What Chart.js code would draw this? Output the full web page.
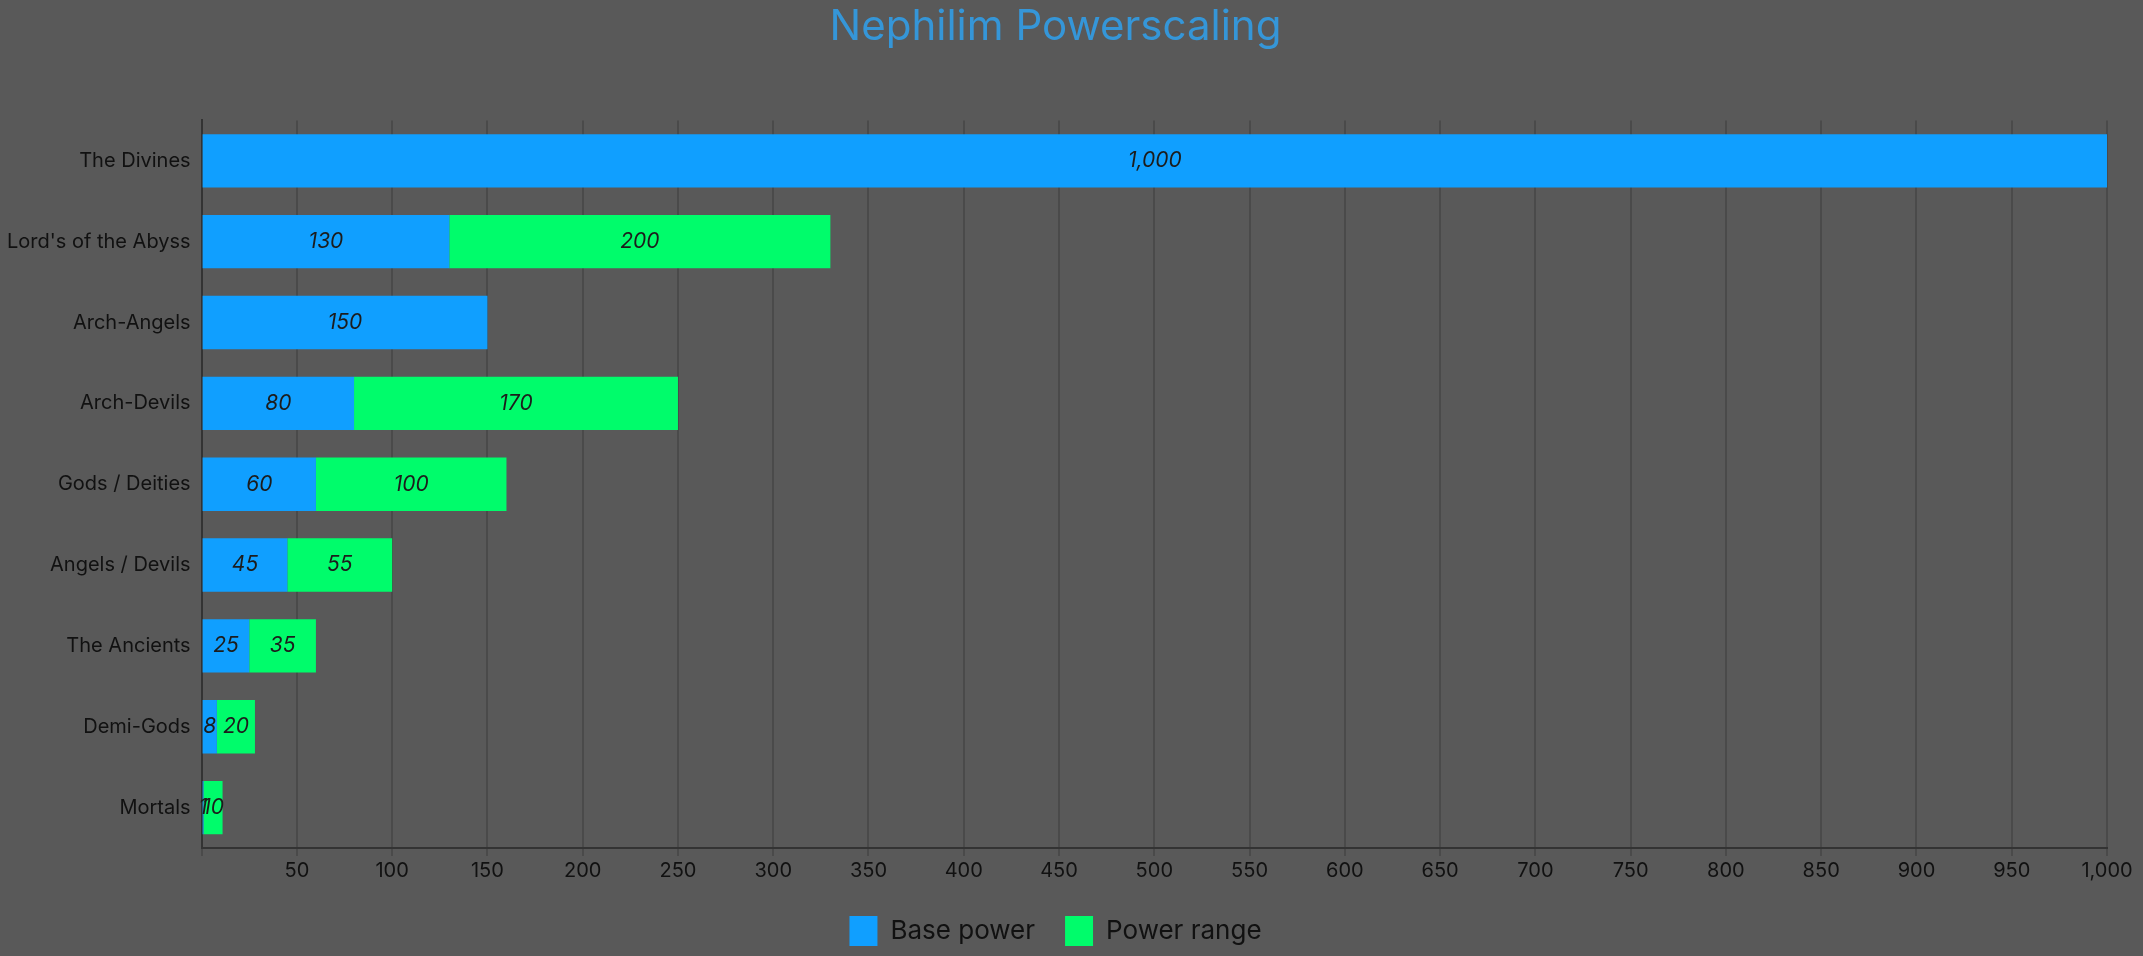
<!DOCTYPE html>
<html>
<head>
<meta charset="utf-8">
<script src="https://cdn.jsdelivr.net/npm/chart.js@4"></script>
<style>
  html, body { margin: 0; padding: 0; background: #595959; }
  #wrap { width: 2143px; height: 956px; }
</style>
</head>
<body>
<div id="wrap"><canvas id="powerChart"></canvas></div>
<script>
const categories = ['The Divines', "Lord's of the Abyss", 'Arch-Angels', 'Arch-Devils', 'Gods / Deities', 'Angels / Devils', 'The Ancients', 'Demi-Gods', 'Mortals'];
const basePower = [1000, 130, 150, 80, 60, 45, 25, 8, 1];
const powerRange = [null, 200, null, 170, 100, 55, 35, 20, 10];

Chart.defaults.font.family = 'Inter';

// centered italic value labels on each bar segment
const barLabels = {
    id: 'barLabels',
    afterDatasetsDraw(chart) {
        const ctx = chart.ctx;
        ctx.save();
        ctx.font = 'italic 21px Inter';
        ctx.fillStyle = '#1c1c1c';
        ctx.textAlign = 'center';
        ctx.textBaseline = 'middle';
        chart.data.datasets.forEach((ds, i) => {
            chart.getDatasetMeta(i).data.forEach((bar, j) => {
                const v = ds.data[j];
                if (v == null) return;
                const p = bar.getProps(['x', 'y', 'base'], true);
                ctx.fillText(v.toLocaleString('en-US'), (p.x + p.base) / 2, p.y);
            });
        });
        ctx.restore();
    }
};

const ctx = document.getElementById('powerChart').getContext('2d');
new Chart(ctx, {
    type: 'bar',
    data: {
        labels: categories,
        datasets: [{
            label: 'Base power',
            data: basePower,
            backgroundColor: '#109fff'
        }, {
            label: 'Power range',
            data: powerRange,
            backgroundColor: '#00fc6b'
        }]
    },
    options: {
        indexAxis: 'y',
        responsive: true,
        maintainAspectRatio: false,
        animation: false,
        barPercentage: 0.66,
        categoryPercentage: 1,
        layout: { padding: { right: 36, left: 4 } },
        plugins: {
            title: {
                display: true,
                text: 'Nephilim Powerscaling',
                color: '#3596d8',
                font: { size: 42, weight: 'normal' },
                padding: { top: 2, bottom: 68 }
            },
            legend: {
                position: 'bottom',
                labels: {
                    color: '#111',
                    font: { size: 26 },
                    boxWidth: 28,
                    boxHeight: 30,
                    padding: 30
                }
            },
            tooltip: { enabled: false }
        },
        scales: {
            x: {
                stacked: true,
                min: 0,
                max: 1000,
                ticks: {
                    stepSize: 50,
                    color: '#111',
                    font: { size: 20 },
                    callback: v => v === 0 ? '' : v.toLocaleString('en-US')
                },
                grid: { color: '#4a4a4a', lineWidth: 2 },
                border: { color: '#333', width: 2 }
            },
            y: {
                stacked: true,
                ticks: { color: '#111', font: { size: 20 } },
                grid: { display: false },
                border: { color: '#333', width: 2 }
            }
        }
    },
    plugins: [barLabels]
});
</script>
</body>
</html>
